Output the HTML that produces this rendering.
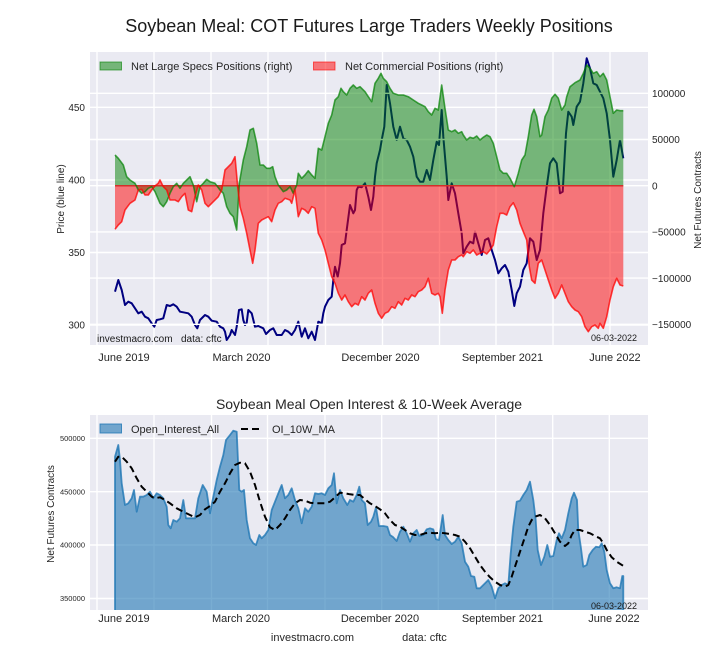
<!DOCTYPE html>
<html><head><meta charset="utf-8"><style>
html,body{margin:0;padding:0;background:#fff;}
svg{display:block;font-family:"Liberation Sans",Arial,sans-serif;}
</style></head><body>
<svg width="720" height="660" viewBox="0 0 720 660" xmlns="http://www.w3.org/2000/svg">
<defs>
<clipPath id="c1"><rect x="90" y="52" width="558" height="293"/></clipPath>
<clipPath id="c2"><rect x="90" y="415" width="558" height="195"/></clipPath>
</defs>
<rect width="720" height="660" fill="#fff"/>
<text x="369" y="32" text-anchor="middle" font-size="18" fill="#1a1a1a">Soybean Meal: COT Futures Large Traders Weekly Positions</text>

<!-- TOP CHART -->
<rect x="90" y="52" width="558" height="293" fill="#eaeaf2"/>
<g stroke="#fff" stroke-width="1.4">
<line x1="90" x2="648" y1="107.3" y2="107.3"/><line x1="90" x2="648" y1="180" y2="180"/><line x1="90" x2="648" y1="252.5" y2="252.5"/><line x1="90" x2="648" y1="325" y2="325"/>
<line y1="52" y2="345" x1="97" x2="97"/><line y1="52" y2="345" x1="154" x2="154"/><line y1="52" y2="345" x1="211" x2="211"/><line y1="52" y2="345" x1="268" x2="268"/><line y1="52" y2="345" x1="325.5" x2="325.5"/><line y1="52" y2="345" x1="382.5" x2="382.5"/><line y1="52" y2="345" x1="439.5" x2="439.5"/><line y1="52" y2="345" x1="496" x2="496"/><line y1="52" y2="345" x1="553" x2="553"/><line y1="52" y2="345" x1="610" x2="610"/>
</g>
<g clip-path="url(#c1)">
<polyline fill="none" stroke="#000080" stroke-width="2" stroke-linejoin="round" points="115,291.7 118.3,280 121.7,290 125,305 128.3,301.7 131.7,303.3 135,308.3 138.3,313.3 141.7,311.7 145,316.7 148.3,318.3 151.7,323.3 154.3,326.7 156.7,320 160,319.3 163.3,318.3 166.7,305 170,306 173.3,304.3 176.7,306.7 180,311.7 183.3,312.3 188.3,313.3 191.7,316.7 195,325 197.3,328.3 200,320 205,315 208.3,316.7 211.7,320.7 216.7,321.7 220,326.7 223.3,328.3 225,331.7 226.7,340 230,335 231.7,330 235,335 236.7,326.7 239,310 241.7,309.3 243.3,320 245,325 246.7,322.7 248.3,310 251.7,313.3 255,326.7 258.3,326 263.3,328.3 266,334 270,330 273.3,328.3 276.7,335 281.7,335 285,330 288.3,331.7 291.7,335 295,330 298.3,321.7 301.7,336.7 305,328.3 308.3,338.3 311.7,331.7 315,340 318.3,321.7 321.7,323.3 323.3,313.3 325,306.7 328.3,300 331.7,296.7 333.3,280 335,266.7 337.7,276.7 340,263.3 341.7,245 345,243.3 346.7,230 350,205 353.3,213.3 355,210 356.7,190 358.3,186.7 361.7,187.3 365,183.3 368.3,196.7 371,210 373.3,196.7 375,176.7 376.7,163.3 380,150 381.7,140 384.3,126.7 386.7,85 390,103.3 393.3,126.7 396.7,140 400,126.7 403.3,138.3 406.7,140 410,146.7 413.3,156.7 416.7,176.7 420,181.7 423.3,181.7 426.7,170 430,180 433.3,160 436.7,141.7 439,145 441.7,110 443.3,136.7 446.7,176.7 448.3,200 451.7,183.3 455,193.3 458.3,213.3 461.7,233.3 463.3,253.3 466.7,246.7 470,241.7 473.3,243.3 475,231.7 478.3,243.3 481.7,255 485,240 488.3,238.3 491.7,250 495,260 498.3,273.3 501.7,268.3 505,265 508.3,271.7 511.7,290 514.3,306 516.7,293.3 520,286.7 523.3,270 526.7,263.3 530,238.3 533.3,241.7 536.7,260 540,250 543.3,213.3 546.7,186.7 550,163.3 553.3,158.3 556.7,163.3 560,193.3 562.7,191.7 566,133.3 568.3,111.7 571.7,116.7 573.3,125 576.7,106.7 580,101.7 583.3,83.3 586.7,58.3 590,68.3 593.3,83.3 596.7,85 600,91.7 603.3,98.3 606.7,113.3 610,140 613.3,176.7 616.7,160 620,140 623.3,158.3"/>
</g>
<g stroke="#fff" stroke-width="1.4">
<line x1="90" x2="648" y1="93.3" y2="93.3"/><line x1="90" x2="648" y1="139.5" y2="139.5"/><line x1="90" x2="648" y1="185.7" y2="185.7"/><line x1="90" x2="648" y1="231.9" y2="231.9"/><line x1="90" x2="648" y1="278.1" y2="278.1"/><line x1="90" x2="648" y1="324.3" y2="324.3"/>
</g>
<g clip-path="url(#c1)">
<polygon fill="#008000" fill-opacity="0.5" points="115,185.7 115,155 118.3,158.3 123.3,165 126.7,176.7 130,180 135,183.3 138.3,190 141.7,193.3 145,191.7 148.3,188.3 151.7,186.7 155,191.7 160,203.3 163.3,206.7 166.7,201.7 170,193.3 173.3,186.7 176.7,183.3 180,188.3 183.3,183.3 186.7,180 190,176.7 193.3,185 196.7,201.7 200,186.7 203.3,183.3 206.7,179.3 210,181.7 215,183.3 220,190 223.3,193.3 226.7,206.7 230,213.3 233.3,216.7 236.7,230 239.3,183.3 243.3,160 246.7,146.7 250,130 253.3,128.3 256.7,143.3 260,165 263.3,165 266.7,168.3 270,168.3 272.7,166.7 275,176.7 278.3,185 283.3,191.7 286.7,190 290,186.7 293.3,193.3 296.7,185 298.3,173.3 301.7,178.3 305,175 308.3,170.7 311.7,175 315,178.3 318.3,148.3 321.7,150 325,136.7 328.3,123.3 331.7,115 335,100 338.3,96.7 341,88.3 343.3,91.7 346.7,95 350,88.3 353.3,85 356.7,88.3 360,86.7 365,91.7 368.3,96.7 371.7,101.7 375,83.3 378.3,78.3 381,73.3 383.3,78.3 386.7,81.7 390,88.3 393.3,93.3 398.3,95 403.3,95 408.3,96.7 413.3,100 418.3,103.3 421.7,105 425,106.7 428.3,111.7 431.7,115 435,108.3 438.3,110 441.7,85 445,108.3 448.3,130 451.7,131.7 455,130 458.3,133.3 461.7,131.7 463.3,135 466.7,140 470,137.3 473.3,138.3 476.7,136 480,140 483.3,137.3 486.7,135 490,136.7 493.3,143.3 496.7,156.7 500,170 503.3,173.3 506.7,173.3 510,178.3 514.3,186.7 518.3,173.3 521.7,160 525,155 528.3,136.7 531.7,115 534,109.3 536.7,116.7 540,136.7 541.7,135 545,116.7 548.3,110 551.7,98.3 555,94.3 558.3,98.3 561.7,110 565,105 566.7,96.7 570,86.7 575,82.7 580,80 583.3,73.3 586.7,65 590,68.3 593.3,73.3 596.7,71.7 600,76.7 603.3,73.3 606.7,80 610,96.7 613.3,113.3 616.7,110 620,110.7 623.3,110.7 623.3,185.7"/>
<polygon fill="#ff0000" fill-opacity="0.5" points="115,185.7 115,229.3 118.3,225 121.7,221.7 125,210 130,203.3 135,200 138.3,190 141.7,189.3 145,195 148.3,195 151.7,190 155,186 158.3,183.3 160,180 163.3,186.7 166.7,190 170,200 175,200 178.3,201.7 181.7,196.7 185,193.3 188.3,210 191.7,211.7 195,196.7 198.3,185 201.7,190 205,203.3 208.3,206.7 213.3,201.7 218.3,196.7 221.7,190 225,170 228.3,166.7 231.7,163.3 235,156.7 237.7,186.7 240,206.7 243.3,218.3 246.7,233.3 250,250 252.7,263.3 255,250 258.3,223.3 261.7,220 265,218.3 268.3,216.7 271.7,221.7 275,210 278.3,203.3 281.7,201.7 285,198.3 290,200 291.7,203.3 295,190 298.3,216.7 301.7,208.3 305,210 308.3,213.3 311.7,206.7 315,208.3 318.3,233.3 321.7,240 325,250 328.3,263.3 331.7,276.7 335,283.3 338.3,293.3 341.7,300 345,295 348.3,301.7 351.7,306.7 355,303.3 358.3,305 361.7,296.7 365,300 368.3,293.3 371.7,290 375,303.3 378.3,313.3 381.7,318.3 385,313.3 388.3,311.7 391.7,306.7 395,308.3 398.3,301.7 401.7,305 405,298.3 408.3,300 411.7,295 415,296.7 418.3,291.7 421.7,290 425,286.7 428.3,278.3 431.7,293.3 435,295 438.3,293.3 440,296.7 442.3,313.3 445,290 448.3,270 451.7,260 455,260 458.3,256.7 461.7,255 463.3,256.7 466.7,251.7 470,253.3 473.3,250 476.7,255 480,253.3 483.3,251.7 486.7,254 490,250 493.3,245 496.7,226.7 500,213.3 503.3,213.3 506.7,215 510,206.7 513.3,202.7 516.7,210 520,223.3 523.3,231.7 526.7,240 529.3,266.7 531.7,280 535,283.3 538.3,263.3 541.7,260 545,270 548.3,280 551.7,290 555,298.3 558.3,293.3 561.7,285 565,293.3 568.3,301.7 571.7,306.7 575,310 578.3,311.7 581.7,316.7 585,326.7 588.3,331.7 591.7,326.7 595,325 598.3,328.3 600,323.3 603.3,328.3 606.7,316.7 610,300 613.3,286.7 616.7,278.3 620,285 623.3,286 623.3,185.7"/>
<line x1="115" x2="623.3" y1="185.7" y2="185.7" stroke="#d2302a" stroke-width="1.5"/>
<polyline fill="none" stroke="#008000" stroke-opacity="0.7" stroke-width="1.6" stroke-linejoin="round" points="115,155 118.3,158.3 123.3,165 126.7,176.7 130,180 135,183.3 138.3,190 141.7,193.3 145,191.7 148.3,188.3 151.7,186.7 155,191.7 160,203.3 163.3,206.7 166.7,201.7 170,193.3 173.3,186.7 176.7,183.3 180,188.3 183.3,183.3 186.7,180 190,176.7 193.3,185 196.7,201.7 200,186.7 203.3,183.3 206.7,179.3 210,181.7 215,183.3 220,190 223.3,193.3 226.7,206.7 230,213.3 233.3,216.7 236.7,230 239.3,183.3 243.3,160 246.7,146.7 250,130 253.3,128.3 256.7,143.3 260,165 263.3,165 266.7,168.3 270,168.3 272.7,166.7 275,176.7 278.3,185 283.3,191.7 286.7,190 290,186.7 293.3,193.3 296.7,185 298.3,173.3 301.7,178.3 305,175 308.3,170.7 311.7,175 315,178.3 318.3,148.3 321.7,150 325,136.7 328.3,123.3 331.7,115 335,100 338.3,96.7 341,88.3 343.3,91.7 346.7,95 350,88.3 353.3,85 356.7,88.3 360,86.7 365,91.7 368.3,96.7 371.7,101.7 375,83.3 378.3,78.3 381,73.3 383.3,78.3 386.7,81.7 390,88.3 393.3,93.3 398.3,95 403.3,95 408.3,96.7 413.3,100 418.3,103.3 421.7,105 425,106.7 428.3,111.7 431.7,115 435,108.3 438.3,110 441.7,85 445,108.3 448.3,130 451.7,131.7 455,130 458.3,133.3 461.7,131.7 463.3,135 466.7,140 470,137.3 473.3,138.3 476.7,136 480,140 483.3,137.3 486.7,135 490,136.7 493.3,143.3 496.7,156.7 500,170 503.3,173.3 506.7,173.3 510,178.3 514.3,186.7 518.3,173.3 521.7,160 525,155 528.3,136.7 531.7,115 534,109.3 536.7,116.7 540,136.7 541.7,135 545,116.7 548.3,110 551.7,98.3 555,94.3 558.3,98.3 561.7,110 565,105 566.7,96.7 570,86.7 575,82.7 580,80 583.3,73.3 586.7,65 590,68.3 593.3,73.3 596.7,71.7 600,76.7 603.3,73.3 606.7,80 610,96.7 613.3,113.3 616.7,110 620,110.7 623.3,110.7"/>
<polyline fill="none" stroke="#ff0000" stroke-opacity="0.75" stroke-width="1.6" stroke-linejoin="round" points="115,229.3 118.3,225 121.7,221.7 125,210 130,203.3 135,200 138.3,190 141.7,189.3 145,195 148.3,195 151.7,190 155,186 158.3,183.3 160,180 163.3,186.7 166.7,190 170,200 175,200 178.3,201.7 181.7,196.7 185,193.3 188.3,210 191.7,211.7 195,196.7 198.3,185 201.7,190 205,203.3 208.3,206.7 213.3,201.7 218.3,196.7 221.7,190 225,170 228.3,166.7 231.7,163.3 235,156.7 237.7,186.7 240,206.7 243.3,218.3 246.7,233.3 250,250 252.7,263.3 255,250 258.3,223.3 261.7,220 265,218.3 268.3,216.7 271.7,221.7 275,210 278.3,203.3 281.7,201.7 285,198.3 290,200 291.7,203.3 295,190 298.3,216.7 301.7,208.3 305,210 308.3,213.3 311.7,206.7 315,208.3 318.3,233.3 321.7,240 325,250 328.3,263.3 331.7,276.7 335,283.3 338.3,293.3 341.7,300 345,295 348.3,301.7 351.7,306.7 355,303.3 358.3,305 361.7,296.7 365,300 368.3,293.3 371.7,290 375,303.3 378.3,313.3 381.7,318.3 385,313.3 388.3,311.7 391.7,306.7 395,308.3 398.3,301.7 401.7,305 405,298.3 408.3,300 411.7,295 415,296.7 418.3,291.7 421.7,290 425,286.7 428.3,278.3 431.7,293.3 435,295 438.3,293.3 440,296.7 442.3,313.3 445,290 448.3,270 451.7,260 455,260 458.3,256.7 461.7,255 463.3,256.7 466.7,251.7 470,253.3 473.3,250 476.7,255 480,253.3 483.3,251.7 486.7,254 490,250 493.3,245 496.7,226.7 500,213.3 503.3,213.3 506.7,215 510,206.7 513.3,202.7 516.7,210 520,223.3 523.3,231.7 526.7,240 529.3,266.7 531.7,280 535,283.3 538.3,263.3 541.7,260 545,270 548.3,280 551.7,290 555,298.3 558.3,293.3 561.7,285 565,293.3 568.3,301.7 571.7,306.7 575,310 578.3,311.7 581.7,316.7 585,326.7 588.3,331.7 591.7,326.7 595,325 598.3,328.3 600,323.3 603.3,328.3 606.7,316.7 610,300 613.3,286.7 616.7,278.3 620,285 623.3,286"/>
</g>
<!-- top legend -->
<rect x="100" y="62" width="21.5" height="8" fill="#008000" fill-opacity="0.5" stroke="#008000" stroke-opacity="0.6" stroke-width="1"/>
<text x="131" y="70" font-size="11" fill="#262626">Net Large Specs Positions (right)</text>
<rect x="313.5" y="62" width="21.5" height="8" fill="#ff0000" fill-opacity="0.5" stroke="#ff0000" stroke-opacity="0.6" stroke-width="1"/>
<text x="345" y="70" font-size="11" fill="#262626">Net Commercial Positions (right)</text>
<text x="97" y="342" font-size="10" fill="#1a1a1a">investmacro.com</text>
<text x="181" y="342" font-size="10" fill="#1a1a1a">data: cftc</text>
<text x="637" y="341" font-size="9" fill="#1a1a1a" text-anchor="end">06-03-2022</text>
<!-- top ticks -->
<g font-size="10" fill="#262626" text-anchor="end">
<text x="85" y="111">450</text><text x="85" y="183.6">400</text><text x="85" y="256">350</text><text x="85" y="328.6">300</text>
</g>
<g font-size="10" fill="#262626">
<text x="652" y="97">100000</text><text x="652" y="143.2">50000</text><text x="652" y="189.4">0</text><text x="652" y="235.6">−50000</text><text x="652" y="281.8">−100000</text><text x="652" y="328">−150000</text>
</g>
<text transform="translate(64,199) rotate(-90)" font-size="10" fill="#262626" text-anchor="middle">Price (blue line)</text>
<text transform="translate(701,200) rotate(-90)" font-size="10" fill="#262626" text-anchor="middle">Net Futures Contracts</text>
<g font-size="11" fill="#262626" text-anchor="middle">
<text x="124" y="361">June 2019</text><text x="241.5" y="361">March 2020</text><text x="380.5" y="361">December 2020</text><text x="502.5" y="361">September 2021</text><text x="615" y="361">June 2022</text>
</g>

<!-- BOTTOM CHART -->
<text x="369" y="409" text-anchor="middle" font-size="14" fill="#262626">Soybean Meal Open Interest &amp; 10-Week Average</text>
<rect x="90" y="415" width="558" height="195" fill="#eaeaf2"/>
<g stroke="#fff" stroke-width="1.4">
<line x1="90" x2="648" y1="438.3" y2="438.3"/><line x1="90" x2="648" y1="491.7" y2="491.7"/><line x1="90" x2="648" y1="545" y2="545"/><line x1="90" x2="648" y1="598.5" y2="598.5"/>
<line y1="415" y2="610" x1="97" x2="97"/><line y1="415" y2="610" x1="154" x2="154"/><line y1="415" y2="610" x1="211.5" x2="211.5"/><line y1="415" y2="610" x1="267.5" x2="267.5"/><line y1="415" y2="610" x1="325" x2="325"/><line y1="415" y2="610" x1="381.7" x2="381.7"/><line y1="415" y2="610" x1="438.3" x2="438.3"/><line y1="415" y2="610" x1="495.7" x2="495.7"/><line y1="415" y2="610" x1="552.7" x2="552.7"/><line y1="415" y2="610" x1="609.3" x2="609.3"/>
</g>
<g clip-path="url(#c2)">
<polygon fill="#1f77b4" fill-opacity="0.6" stroke="#1f77b4" stroke-opacity="0.8" stroke-width="1.8" stroke-linejoin="round" points="115,620 115,456.7 118.3,445 120,460 121.7,483.3 125,505 128.3,503.3 131.7,498.3 134,490 136.7,511.7 140,496.7 143.3,496.7 146.7,495 150,491.7 153.3,498.3 156.7,493.3 160,495 163.3,498.3 166.7,506.7 168.3,525 170.7,528.3 173.3,520 176.7,521.7 180,518.3 183.3,500 186,518.3 190,518.3 195,518.3 198.3,498.3 202.7,485 206.7,491.7 210,513.3 213.3,496.7 216.7,480 220,466.7 223.3,455 226,440 230,435 233.3,430.7 236.7,431.7 239.3,490 241.7,491.7 244,490 246.7,520 250,538.3 253.3,543.3 256,545 259.3,535 261.7,538.3 265,535 268.3,530 271.7,510 275,501.7 278.3,493.3 281.7,485 285,498.3 288.3,495 291.7,488.3 295,500 298.3,508.3 301.7,523.3 305,508.3 308.3,511.7 311.7,506.7 315,493.3 318.3,494 321.7,493.3 325,495 328.3,488.3 331.7,485 334,473.3 336.7,503.3 340,490 343.3,498.3 347.3,505 350,500 353.3,501.7 356.7,495 359.3,486.7 361.7,500 365,503.3 367.7,525 371,521.7 373.3,516.7 376,507.3 379,526 383.3,526 387.3,526.7 390,535 393.3,537.3 396.7,541 400,531.7 403.3,526.7 406.7,533.3 410,541.7 413.3,533.3 416.7,530 419.3,536 423.3,535 426.7,529.3 430,528.3 433.3,529.3 436,539.3 439,540 442.7,515 445,535 448.3,540 451.7,544 455,541.7 458.3,536.7 461.7,543.3 465,561.7 468.3,566.7 471,576 474.3,576.7 476.7,588.3 480,588.3 483.3,585 488.3,580 491.7,586.7 495,598.3 498.3,588.3 501.7,585 505,583.3 508.3,585 510.7,553.3 513.3,526.7 516.7,501.7 520,500.7 523.3,495 526.7,490 530,481.7 533.3,500 535.7,520 537.7,550 541,565 544.3,556.7 547.3,545 550,556.7 553.3,556 556.7,540 559,533.3 561.7,538.3 565,530 568.3,513.3 571.7,498.3 574,492.7 577,500 578.3,530 581,548.3 583.3,566.7 586.7,565 589.3,555 592.7,550 596,546.7 599.3,547.3 601.7,543.3 604.3,551.7 606.7,570 610,583.3 613.3,588.3 616.7,587.3 620,588.3 622.3,576 623.3,576 623.3,620"/>
<polyline fill="none" stroke="#000" stroke-width="2" stroke-dasharray="7,4" stroke-linejoin="round" points="115,461.7 118.3,456.7 121.7,456.7 126.7,461.7 131.7,468.3 136.7,478.3 141.7,486.7 146.7,491.7 151.7,496.7 155,498.3 160,497.3 165,500 170,503.3 176.7,508.3 183.3,511.7 190,515 195,517.3 200,515 205,509.3 210,506 215,501.7 220,491.7 225,483.3 230,473.3 235,465 240,462.7 245,463.3 250,471.7 255,485 260,501.7 265,516.7 270,527.3 275,530 280,525 285,518.3 290,510 295,503.3 300,500 305,500.7 310,502.7 315,503.3 320,503.3 325,503.3 330,501.7 335,497.3 340,492.7 345,493.3 350,494.3 355,495 360,495 365,499.3 370,503.3 375,506 380,509.3 385,513.3 390,520 395,525 400,526.7 405,530 410,533.3 415,535 420,535 425,533.3 430,532.7 435,533.3 440,532.7 445,533.3 450,534 455,535 460,536.7 465,541.7 470,548.3 475,556.7 480,565 485,571.7 490,577.3 495,581.7 500,585 505,586.7 508.3,585 511.7,576.7 515,566.7 518.3,556.7 521.7,546.7 525,536.7 528.3,526.7 531.7,520 535,516.7 540,515 545,518.3 550,525 555,533.3 560,541.7 565,546 568.3,543.3 571.7,535 575,530 580,530 585,531.7 590,533.3 595,536 600,538.3 603.3,543.3 606.7,550 611.7,557.3 616.7,561.7 623,565.7"/>
</g>
<!-- bottom legend -->
<rect x="100" y="424" width="21.5" height="9" fill="#1f77b4" fill-opacity="0.6" stroke="#1f77b4" stroke-opacity="0.8" stroke-width="1"/>
<text x="131" y="433" font-size="11" fill="#262626">Open_Interest_All</text>
<line x1="241" x2="262" y1="429" y2="429" stroke="#000" stroke-width="2" stroke-dasharray="7,4"/>
<text x="272" y="433" font-size="11" fill="#262626">OI_10W_MA</text>
<text x="637" y="609" font-size="9" fill="#1a1a1a" text-anchor="end">06-03-2022</text>
<g font-size="7.5" fill="#262626" text-anchor="end">
<text x="85" y="441">500000</text><text x="85" y="494.4">450000</text><text x="85" y="547.7">400000</text><text x="85" y="601.2">350000</text>
</g>
<text transform="translate(54,514) rotate(-90)" font-size="10" fill="#262626" text-anchor="middle">Net Futures Contracts</text>
<g font-size="11" fill="#262626" text-anchor="middle">
<text x="124" y="622">June 2019</text><text x="241" y="622">March 2020</text><text x="380" y="622">December 2020</text><text x="502.5" y="622">September 2021</text><text x="614" y="622">June 2022</text>
</g>
<text x="312.5" y="641" font-size="11" fill="#262626" text-anchor="middle">investmacro.com</text>
<text x="424.5" y="641" font-size="11" fill="#262626" text-anchor="middle">data: cftc</text>
</svg>
</body></html>
